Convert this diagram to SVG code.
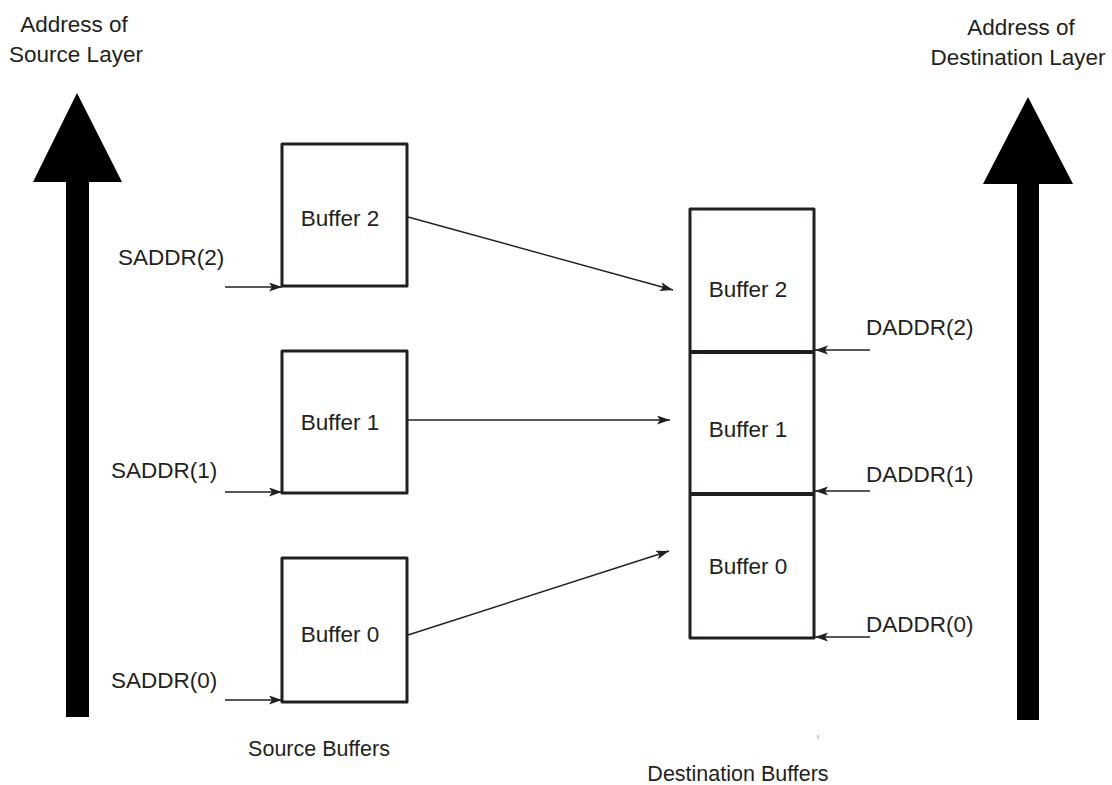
<svg xmlns="http://www.w3.org/2000/svg" width="1112" height="785" viewBox="0 0 1112 785">
<style>
text{font-family:"Liberation Sans",Arial,sans-serif;font-size:22.5px;fill:#231f20}
text.cap{font-size:21.5px}
.box{fill:#fff;stroke:#231f20;stroke-width:3;stroke-linejoin:round}
.div{stroke:#231f20;stroke-width:4}
.con{stroke:#231f20;stroke-width:1.4;fill:none}
.big{fill:#000}
</style>
<defs>
<marker id="ah" markerUnits="userSpaceOnUse" markerWidth="14" markerHeight="10" refX="13" refY="4.5" orient="auto">
<path d="M0,0 L13,4.5 L0,9 L3,4.5 z" fill="#231f20"/>
</marker>
</defs>
<rect width="1112" height="785" fill="#fff"/>

<g id="src-axis">
<polygon class="big" points="77,93 122,182 89,182 89,717 66,717 66,182 33,182"/>
<text x="74" y="32" text-anchor="middle">Address of</text>
<text x="76" y="62" text-anchor="middle">Source Layer</text>
</g>
<g id="dst-axis">
<polygon class="big" points="1028,97 1073,184 1039,184 1039,720 1017,720 1017,184 983,184"/>
<text x="1021" y="35" text-anchor="middle">Address of</text>
<text x="1018" y="65" text-anchor="middle">Destination Layer</text>
</g>

<g id="src-buffer2">
<rect class="box" x="282" y="144" width="125" height="142"/>
<text x="340" y="226" text-anchor="middle">Buffer 2</text>
</g>
<g id="src-buffer1">
<rect class="box" x="282" y="351" width="125" height="142"/>
<text x="340" y="430" text-anchor="middle">Buffer 1</text>
</g>
<g id="src-buffer0">
<rect class="box" x="282" y="558" width="125" height="144"/>
<text x="340" y="642" text-anchor="middle">Buffer 0</text>
</g>

<g id="dst-buffers">
<rect class="box" x="690" y="209" width="124" height="429"/>
<line class="div" x1="690" y1="352" x2="814" y2="352"/>
<line class="div" x1="690" y1="494" x2="814" y2="494"/>
<text x="748" y="297" text-anchor="middle">Buffer 2</text>
<text x="748" y="437" text-anchor="middle">Buffer 1</text>
<text x="748" y="574" text-anchor="middle">Buffer 0</text>
</g>

<g id="labels">
<text x="118" y="265">SADDR(2)</text>
<text x="111" y="478">SADDR(1)</text>
<text x="111" y="688">SADDR(0)</text>
<text x="866" y="335">DADDR(2)</text>
<text x="866" y="482">DADDR(1)</text>
<text x="866" y="632">DADDR(0)</text>
<text class="cap" x="319" y="756" text-anchor="middle">Source Buffers</text>
<text class="cap" x="738" y="781" text-anchor="middle">Destination Buffers</text>
</g>

<g id="connectors">
<line class="con" x1="408" y1="217" x2="673" y2="290" marker-end="url(#ah)"/>
<line class="con" x1="408" y1="420" x2="670" y2="420" marker-end="url(#ah)"/>
<line class="con" x1="408" y1="635" x2="669" y2="551" marker-end="url(#ah)"/>
<line class="con" x1="225" y1="287" x2="282" y2="287" marker-end="url(#ah)"/>
<line class="con" x1="225" y1="492" x2="282" y2="492" marker-end="url(#ah)"/>
<line class="con" x1="225" y1="700" x2="282" y2="700" marker-end="url(#ah)"/>
<line class="con" x1="870" y1="350" x2="815" y2="350" marker-end="url(#ah)"/>
<line class="con" x1="870" y1="491" x2="815" y2="491" marker-end="url(#ah)"/>
<line class="con" x1="870" y1="637" x2="815" y2="637" marker-end="url(#ah)"/>
<line x1="818" y1="735" x2="818" y2="739" stroke="#999" stroke-width="1"/>
</g>
</svg>
